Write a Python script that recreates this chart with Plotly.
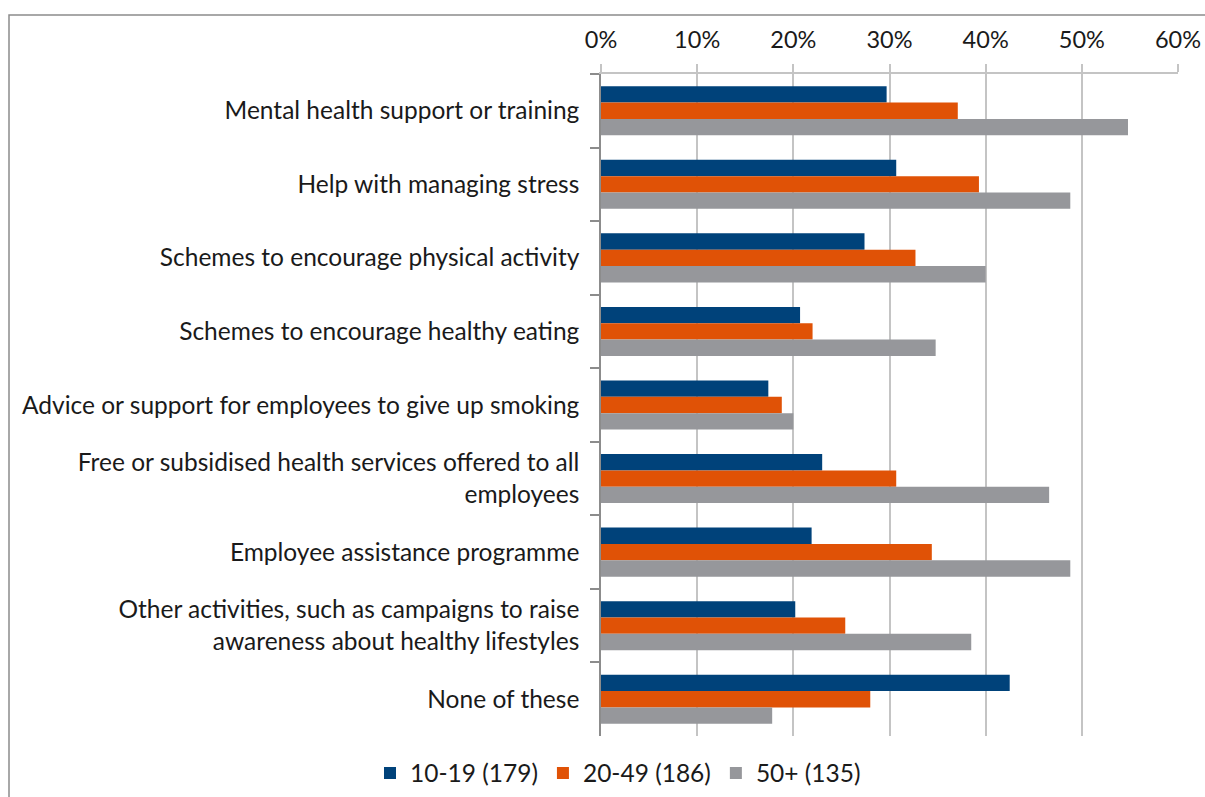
import plotly.graph_objects as go

categories = [
    "Mental health support or training",
    "Help with managing stress",
    "Schemes to encourage physical activity",
    "Schemes to encourage healthy eating",
    "Advice or support for employees to give up smoking",
    "Free or subsidised health services offered to all<br>employees",
    "Employee assistance programme",
    "Other activities, such as campaigns to raise<br>awareness about healthy lifestyles",
    "None of these",
]

series_names = ["10-19 (179)", "20-49 (186)", "50+ (135)"]
values_10_19 = [29.7, 30.7, 27.4, 20.7, 17.4, 23.0, 21.9, 20.2, 42.5]
values_20_49 = [37.1, 39.3, 32.7, 22.0, 18.8, 30.7, 34.4, 25.4, 28.0]
values_50_plus = [54.8, 48.8, 40.0, 34.8, 20.0, 46.6, 48.8, 38.5, 17.8]

tick_values = [0, 10, 20, 30, 40, 50, 60]
tick_labels = ["0%", "10%", "20%", "30%", "40%", "50%", "60%"]

colors = ["#00427a", "#e05206", "#96979b"]
FONT = "Lato, Open Sans, sans-serif"

fig = go.Figure()
for name, vals, col in zip(series_names, [values_10_19, values_20_49, values_50_plus], colors):
    fig.add_trace(go.Bar(
        y=categories, x=vals, name=name, orientation="h",
        marker=dict(color=col, line=dict(width=0)),
    ))

W, H = 1205, 797
L, R, T, B = 601, 27, 74, 61
pw, ph = W - L - R, H - T - B

# outer frame of the chart area
fig.add_shape(
    type="rect", xref="paper", yref="paper",
    x0=(9 - L) / pw, x1=(W + 20 - L) / pw,
    y0=-(B + 20) / ph, y1=(H - 15 - B) / ph,
    line=dict(color="#8c8c8c", width=1.5), fillcolor="rgba(0,0,0,0)", layer="below",
)

fig.update_layout(
    width=W, height=H,
    margin=dict(l=L, r=R, t=T, b=B, autoexpand=False),
    paper_bgcolor="white", plot_bgcolor="white",
    barmode="group", bargap=0.333, bargroupgap=0,
    font=dict(family=FONT, size=24.5, color="#1a1a1a"),
    xaxis=dict(
        side="top", range=[0, 60], tickmode="array",
        tickvals=tick_values, ticktext=tick_labels,
        tickfont=dict(size=23.5),
        showgrid=True, gridcolor="#c4c4c4", gridwidth=1.5,
        ticks="outside", ticklen=8, tickcolor="#c4c4c4", tickwidth=1.5,
        showline=True, linecolor="#c4c4c4", linewidth=1.5,
        zeroline=False, fixedrange=True, ticklabelstandoff=7,
    ),
    yaxis=dict(
        autorange="reversed", tickson="boundaries",
        ticks="outside", ticklen=9, tickcolor="#8c8c8c", tickwidth=1.5,
        showline=True, linecolor="#8c8c8c", linewidth=1.5,
        showgrid=False, fixedrange=True, ticklabelstandoff=15,
    ),
    legend=dict(
        orientation="h", x=(618 - L) / pw, xanchor="center",
        y=-(37) / ph, yanchor="middle",
        font=dict(size=24.5), itemwidth=30, traceorder="normal",
    ),
)

fig.write_html("out.html")
